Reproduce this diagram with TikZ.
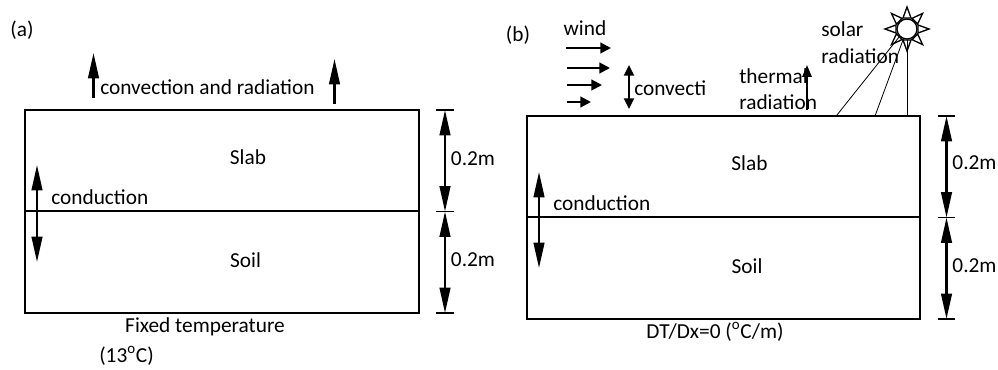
\documentclass[tikz,border=0pt]{standalone}
\usepackage{fontspec}
\setmainfont{Carlito}
\usetikzlibrary{arrows.meta}
\tikzset{
  px/.style={x=0.75pt,y=-0.75pt},
  txt/.style={inner sep=0pt,font=\fontsize{16}{18}\selectfont},
  lft/.style={txt,anchor=west},
  boxa/.style={draw,line width=1.5pt,inner sep=0pt,minimum width=295.2pt,minimum height=152.4pt},
  bar/.style={line width=1.5pt},
  tick/.style={line width=1pt},
  dimarr/.style={line width=1.6pt,{Triangle[length=19pt,width=8pt]}-{Triangle[length=19pt,width=8pt]}},
  uparr/.style={line width=1.6pt,-{Triangle[length=19pt,width=8pt]}},
  cond/.style={line width=1.6pt,{Triangle[length=19pt,width=8pt]}-{Triangle[length=19pt,width=8pt]}},
  small/.style={line width=1.6pt,-{Triangle[length=8pt,width=8pt]}},
  smalld/.style={line width=1.6pt,{Triangle[length=8pt,width=7.5pt]}-{Triangle[length=8pt,width=7.5pt]}},
  beam/.style={line width=0.6pt},
  ray/.style={draw,fill=white,line width=1pt,line join=miter},
  disc/.style={circle,draw,fill=white,line width=1pt,inner sep=0pt,minimum size=15pt}
}
\begin{document}
\begin{tikzpicture}[px]
\useasboundingbox (0,0) rectangle (998,370);
% panel a
\node[boxa] (A) at (221.8,211.5) {};
\draw[bar] (A.west) -- (A.east);
\node[txt] (la) at (22,30) {(a)};
\node[txt] (sa) at (248,157) {Slab};
\node[txt] (oa) at (245.5,260) {Soil};
\node[lft] (ca) at (100,87) {convection and radiation};
\node[lft] (da) at (51,197) {conduction};
\node[txt] (fa) at (205,327) {Fixed temperature};
\node[txt] (ta) at (126.5,356) {(13\textsuperscript{o}C)};
\node[txt] (ma1) at (473,159) {0.2m};
\node[txt] (ma2) at (473,260) {0.2m};
\coordinate (a1s) at (93.5,98); \coordinate (a1e) at (93.5,53);
\coordinate (a2s) at (334.5,104); \coordinate (a2e) at (334.5,59);
\draw[uparr] (a1s) -- (a1e);
\draw[uparr] (a2s) -- (a2e);
\coordinate (c1s) at (37,165); \coordinate (c1e) at (37,262);
\draw[cond] (c1s) -- (c1e);
\coordinate (t1) at (445,110); \coordinate (t2) at (445,211.5); \coordinate (t3) at (445,313);
\foreach \p in {t1,t2,t3} \draw[tick] ([xshift=-6.4pt]\p) -- ([xshift=6.4pt]\p);
\draw[dimarr] (t1) -- (t2);
\draw[dimarr] (t2) -- (t3);
% panel b
\node[boxa] (B) at (723.3,217.5) {};
\draw[bar] (B.west) -- (B.east);
\node[txt] (lb) at (518,35) {(b)};
\node[txt] (sb) at (749.5,163) {Slab};
\node[txt] (ob) at (747,266) {Soil};
\node[txt] (w) at (585,28) {wind};
\node[lft] (cb) at (634,88) {convecti};
\node[lft] (th) at (739,76) {thermal};
\node[lft] (rd) at (739,102) {radiation};
\node[lft] (so) at (821,29) {solar};
\node[lft] (sr) at (821,56) {radiation};
\node[lft] (db) at (553,203) {conduction};
\node[txt] (dx) at (715,332) {DT/Dx=0 (\textsuperscript{o}C/m)};
\node[txt] (mb1) at (974.5,163) {0.2m};
\node[txt] (mb2) at (974.5,266) {0.2m};
\coordinate (w1s) at (566,48); \coordinate (w1e) at (611,48);
\coordinate (w2s) at (567,68); \coordinate (w2e) at (610,68);
\coordinate (w3s) at (567,85); \coordinate (w3e) at (602,85);
\coordinate (w4s) at (567,102); \coordinate (w4e) at (591,102);
\foreach \i in {1,2,3,4} \draw[small] (w\i s) -- (w\i e);
\coordinate (vs) at (629,65); \coordinate (ve) at (629,109);
\draw[smalld] (vs) -- (ve);
\coordinate (ths) at (807,110); \coordinate (the) at (807,65);
\draw[line width=1.6pt,-{Triangle[length=9pt,width=7pt]}] (ths) -- (the);
\coordinate (c2s) at (539,172); \coordinate (c2e) at (539,268);
\draw[cond] (c2s) -- (c2e);
\coordinate (u1) at (946.5,116); \coordinate (u2) at (946.5,217.5); \coordinate (u3) at (946.5,319);
\foreach \p in {u1,u2,u3} \draw[tick] ([xshift=-6.4pt]\p) -- ([xshift=6.4pt]\p);
\draw[dimarr] (u1) -- (u2);
\draw[dimarr] (u2) -- (u3);
% sun
\coordinate (sun) at (907,29);
\foreach \a in {0,45,...,315}
  \draw[ray,shift={(sun)},rotate=\a] (11,-4) -- (22,0) -- (11,4) -- cycle;
\node[disc] (S) at (sun) {};
\coordinate (g1) at (837,115); \coordinate (g2) at (875,116); \coordinate (g3) at (907,115);
\draw[beam] (g1) -- (S.225);
\draw[beam] (g2) -- (S.250);
\draw[beam] (g3) -- (S.270);
\end{tikzpicture}
\end{document}
